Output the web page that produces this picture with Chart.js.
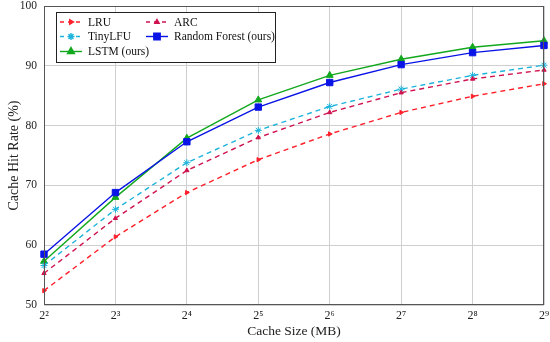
<!DOCTYPE html>
<html lang="en">
<head>
  <meta charset="UTF-8">
  <title>Cache Hit Rate</title>
  <script src="https://cdn.jsdelivr.net/npm/chart.js"></script>
  <style>
    html, body { margin: 0; padding: 0; background: #fff; }
    canvas { display: block; }
  </style>
</head>
<body>
  <canvas id="hitChart" width="550" height="342"></canvas>

  <script>
    // cache sizes (MB) as powers of two
    const cacheSizes = ['2²', '2³', '2⁴', '2⁵', '2⁶', '2⁷', '2⁸', '2⁹'];

    // hit rates (%)
    const lru = [52.4, 61.4, 68.8, 74.3, 78.6, 82.2, 84.9, 87.0];
    const arc = [55.3, 64.5, 72.5, 78.0, 82.2, 85.5, 87.8, 89.3];
    const tinyLfu = [56.6, 66.0, 73.8, 79.2, 83.2, 86.1, 88.4, 90.1];
    const randomForest = [58.5, 68.8, 77.3, 83.1, 87.2, 90.2, 92.2, 93.4];
    const lstm = [57.3, 68.0, 77.9, 84.3, 88.4, 91.1, 93.1, 94.2];

    const yTicks = [50, 60, 70, 80, 90, 100];

    const serif = '"Liberation Serif", "DejaVu Serif", serif';

    const series = [
      { label: 'LRU', data: lru, color: '#ff1f2a', dash: [5, 4], style: 'triangle', rot: 90, r: 2.5 },
      { label: 'ARC', data: arc, color: '#d0124e', dash: [5, 4], style: 'triangle', rot: 0, r: 2.5 },
      { label: 'TinyLFU', data: tinyLfu, color: '#1cb3dc', dash: [5, 4], style: 'star', rot: 0, r: 3.5 },
      { label: 'Random Forest (ours)', data: randomForest, color: '#0a14e6', dash: [], style: 'rect', rot: 0, r: 4.5 },
      { label: 'LSTM (ours)', data: lstm, color: '#12a81e', dash: [], style: 'triangle', rot: 0, r: 4 }
    ];

    // frame around the plot area
    const framePlugin = {
      id: 'frame',
      afterDraw(chart) {
        const { ctx, chartArea: a } = chart;
        ctx.save();
        ctx.strokeStyle = '#555';
        ctx.lineWidth = 1;
        ctx.strokeRect(a.left + 0.5, a.top + 0.5, a.right - a.left - 1, a.bottom - a.top - 1);
        ctx.restore();
      }
    };

    // two-column legend box in the upper left corner
    const legendPlugin = {
      id: 'boxLegend',
      afterDraw(chart) {
        const ctx = chart.ctx;
        const a = chart.chartArea;
        const x0 = a.left + 12, y0 = a.top + 6, w = 219, h = 50;
        ctx.save();
        ctx.fillStyle = '#fff';
        ctx.fillRect(x0, y0, w, h);
        ctx.strokeStyle = '#222';
        ctx.lineWidth = 1;
        ctx.strokeRect(x0 + 0.5, y0 + 0.5, w, h);
        const cols = [x0 + 4, x0 + 90];
        const rows = [y0 + 10, y0 + 24.5, y0 + 39.5];
        ctx.font = '11.5px ' + serif;
        ctx.textBaseline = 'middle';
        series.forEach((s, i) => {
          const cx = cols[i % 2], cy = rows[Math.floor(i / 2)];
          ctx.strokeStyle = s.color;
          ctx.lineWidth = 1.4;
          ctx.setLineDash(s.dash.length ? [4, 4] : []);
          ctx.beginPath();
          ctx.moveTo(cx, cy);
          ctx.lineTo(cx + 22, cy);
          ctx.stroke();
          ctx.setLineDash([]);
          ctx.fillStyle = s.color;
          Chart.helpers.drawPoint(ctx, { pointStyle: s.style, radius: s.r, rotation: s.rot, borderWidth: 1 }, cx + 11, cy);
          ctx.fillStyle = '#111';
          ctx.fillText(s.label, cx + 28, cy + 0.5);
        });
        ctx.restore();
      }
    };

    const ctx = document.getElementById('hitChart').getContext('2d');
    new Chart(ctx, {
      type: 'line',
      data: {
        labels: cacheSizes,
        datasets: series.map(s => ({
          label: s.label,
          data: s.data,
          borderColor: s.color,
          backgroundColor: s.color,
          borderWidth: 1.4,
          borderDash: s.dash,
          pointStyle: s.style,
          pointRotation: s.rot,
          pointRadius: s.r,
          pointBorderWidth: 1,
          tension: 0,
          fill: false
        }))
      },
      options: {
        responsive: false,
        animation: false,
        devicePixelRatio: 1,
        layout: { padding: { left: 0, right: 6, top: 6, bottom: 0 } },
        plugins: {
          legend: { display: false },
          tooltip: { enabled: false }
        },
        scales: {
          x: {
            offset: false,
            grid: { color: '#cfcfcf', drawTicks: false },
            border: { display: false },
            ticks: { color: '#222', font: { family: serif, size: 12 }, padding: 4, maxRotation: 0 },
            title: { display: true, text: 'Cache Size (MB)', color: '#222', font: { family: serif, size: 13.5 }, padding: { top: 0, bottom: 2 } },
            afterFit(scale) {
              scale.height = 37;
              scale.paddingLeft = 0;
              scale.paddingRight = 0;
            }
          },
          y: {
            min: 50,
            max: 100,
            afterBuildTicks(scale) { scale.ticks = yTicks.map(v => ({ value: v })); },
            grid: { color: '#cfcfcf', drawTicks: false },
            border: { display: false },
            ticks: { color: '#222', font: { family: serif, size: 11.5 }, padding: 7 },
            title: { display: true, text: 'Cache Hit Rate (%)', color: '#222', font: { family: serif, size: 14 }, padding: { top: 6, bottom: 0 } },
            afterFit(scale) {
              scale.width = 44;
              scale.paddingTop = 0;
              scale.paddingBottom = 0;
            }
          }
        }
      },
      plugins: [framePlugin, legendPlugin]
    });
  </script>
</body>
</html>
